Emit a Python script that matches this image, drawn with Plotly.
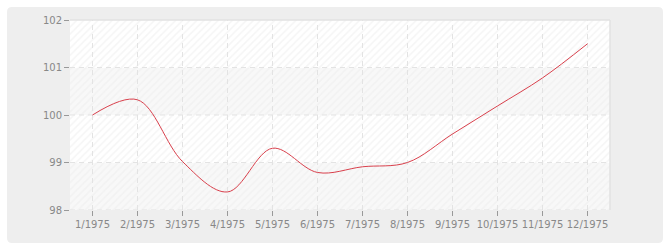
import plotly.graph_objects as go

months = ["1/1975", "2/1975", "3/1975", "4/1975", "5/1975", "6/1975",
          "7/1975", "8/1975", "9/1975", "10/1975", "11/1975", "12/1975"]
values = [100.0, 100.32, 99.02, 98.38, 99.3, 98.79, 98.91, 99.0, 99.6, 100.19, 100.78, 101.5]
y_ticks = [98, 99, 100, 101, 102]

W, H = 670, 250
L, R, T, B = 70, 60, 20, 40
pw, ph = W - L - R, H - T - B

xpos = list(range(len(months)))
x_lo, x_hi = -0.5, len(months) - 0.5
y_lo, y_hi = y_ticks[0], y_ticks[-1]

fig = go.Figure()

# alternating hatched bands
band_bg = ["#f8f8f8", "#ffffff", "#f8f8f8", "#ffffff"]
for i in range(len(y_ticks) - 1):
    fig.add_trace(go.Bar(
        x=[(x_lo + x_hi) / 2], y=[y_ticks[i + 1] - y_ticks[i]], base=[y_ticks[i]],
        width=[x_hi - x_lo],
        marker=dict(color=band_bg[i], line=dict(width=0),
                    pattern=dict(shape="/", fgcolor="#ececec", bgcolor=band_bg[i],
                                 size=5, solidity=0.3)),
        hoverinfo="skip", showlegend=False))

# dashed grid lines
gx, gy = [], []
for k in xpos:
    gx += [k, k, None]
    gy += [y_lo, y_hi, None]
for v in y_ticks[:-1]:
    gx += [x_lo, x_hi, None]
    gy += [v, v, None]
fig.add_trace(go.Scatter(x=gx, y=gy, mode="lines",
                         line=dict(color="#e3e3e3", width=1, dash="5px,4px"),
                         hoverinfo="skip", showlegend=False))

# data line
fig.add_trace(go.Scatter(x=xpos, y=values, mode="lines",
                         line=dict(color="#d9404c", width=1, shape="spline", smoothing=1),
                         showlegend=False))

# outer rounded panel
px0, px1, py0, py1 = 7, 663, 7, 243
rad = 5
def fx(p): return (p - L) / pw
def fy(p): return (T + ph - p) / ph
rx, ry = rad / pw, rad / ph
x0, x1, yt, yb = fx(px0), fx(px1), fy(py0), fy(py1)
path = (f"M {x0+rx},{yt} L {x1-rx},{yt} Q {x1},{yt} {x1},{yt-ry} "
        f"L {x1},{yb+ry} Q {x1},{yb} {x1-rx},{yb} L {x0+rx},{yb} "
        f"Q {x0},{yb} {x0},{yb+ry} L {x0},{yt-ry} Q {x0},{yt} {x0+rx},{yt} Z")
fig.add_shape(type="path", path=path, xref="paper", yref="paper",
              fillcolor="#eeeeee", line=dict(width=0), layer="below")

# top and right border of plot area
fig.add_shape(type="line", xref="paper", yref="paper", x0=0, x1=1, y0=1, y1=1,
              line=dict(color="#e2e2e2", width=1.5), layer="above")
fig.add_shape(type="line", xref="paper", yref="paper", x0=1, x1=1, y0=0, y1=1,
              line=dict(color="#e2e2e2", width=1.5), layer="above")

font = dict(family="DejaVu Sans, Verdana, sans-serif", size=10, color="#888888")
fig.update_layout(
    width=W, height=H,
    margin=dict(l=L, r=R, t=T, b=B),
    paper_bgcolor="#ffffff", plot_bgcolor="#ffffff",
    barmode="overlay", bargap=0,
    font=font,
    xaxis=dict(range=[x_lo, x_hi], tickvals=xpos, ticktext=months,
               ticks="outside", ticklen=5, tickcolor="#999999", tickwidth=1,
               showgrid=False, zeroline=False, showline=False, fixedrange=True,
               tickfont=font),
    yaxis=dict(range=[y_lo, y_hi], tickvals=y_ticks,
               ticks="outside", ticklen=5, tickcolor="#999999", tickwidth=1,
               showgrid=False, zeroline=False, showline=False, fixedrange=True,
               tickfont=font),
)

fig.write_html("out.html")
